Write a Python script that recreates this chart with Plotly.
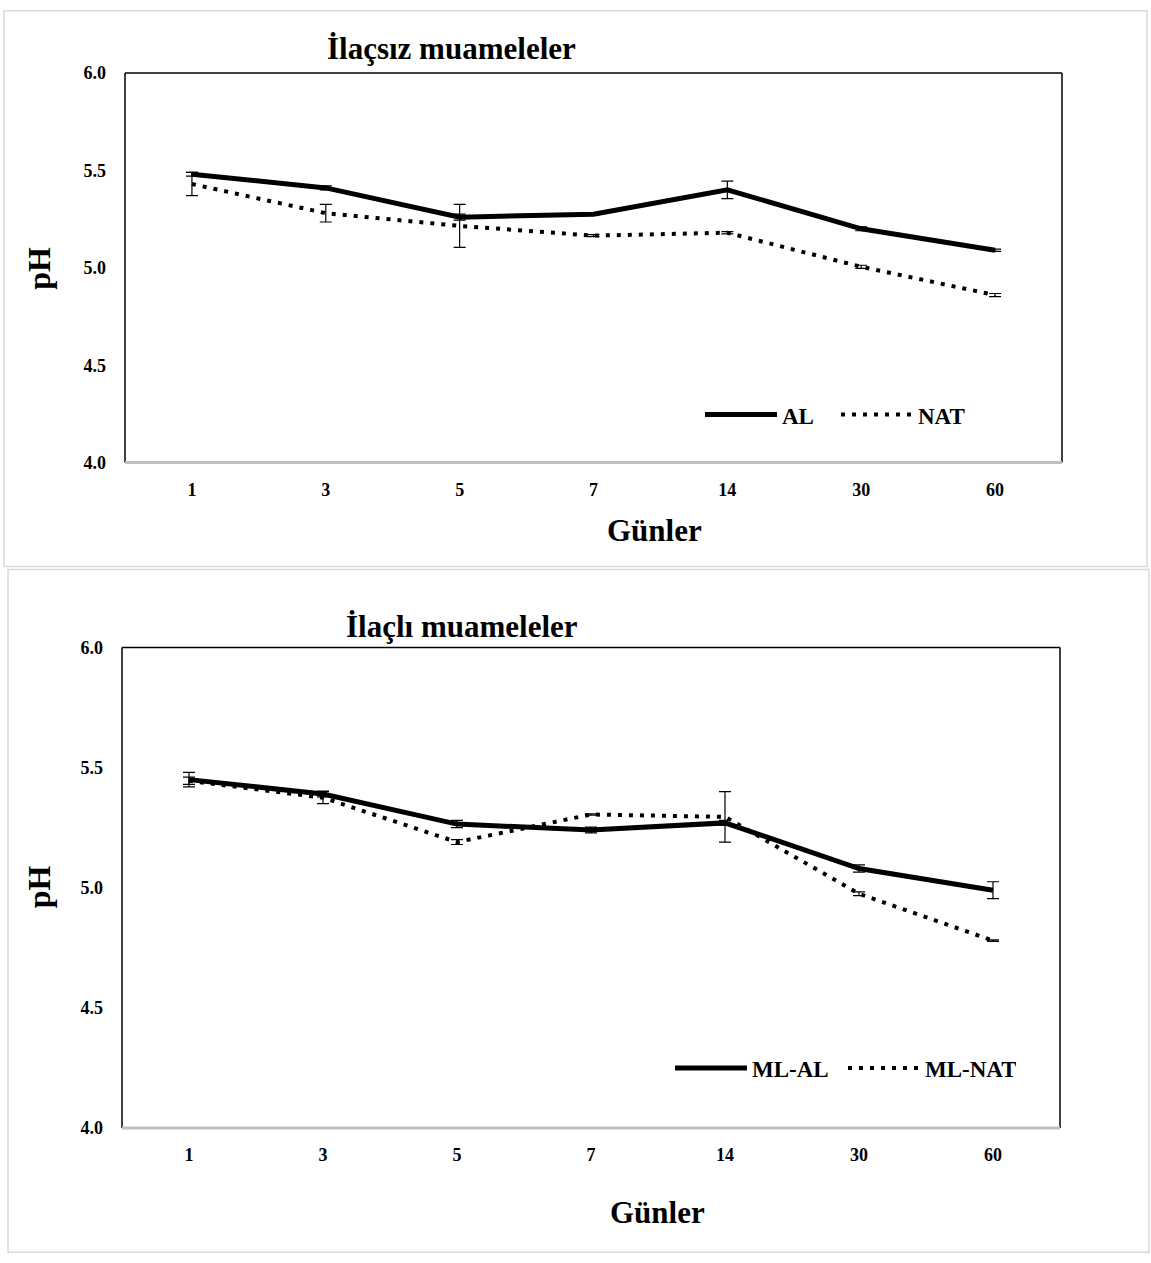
import plotly.graph_objects as go

# ---- data ----
days = ["1", "3", "5", "7", "14", "30", "60"]

al = [5.48, 5.41, 5.26, 5.275, 5.40, 5.20, 5.09]
al_err = [0.01, 0.01, 0.015, 0.004, 0.045, 0.01, 0.006]
nat = [5.43, 5.28, 5.215, 5.165, 5.18, 5.005, 4.86]
nat_err = [0.06, 0.045, 0.11, 0.005, 0.006, 0.008, 0.008]

ml_al = [5.45, 5.39, 5.265, 5.24, 5.27, 5.08, 4.99]
ml_al_err = [0.03, 0.012, 0.015, 0.012, 0.01, 0.015, 0.035]
ml_nat = [5.445, 5.375, 5.19, 5.305, 5.295, 4.975, 4.78]
ml_nat_err = [0.015, 0.025, 0.01, 0.003, 0.105, 0.008, 0.003]

y_ticks = [4.0, 4.5, 5.0, 5.5, 6.0]

title_top = "İlaçsız muameleler"
title_bottom = "İlaçlı muameleler"
x_title = "Günler"
y_title = "pH"

# ---- layout helpers ----
W, H = 1151, 1263
FONT = "Liberation Serif"


def px(x):
    return x / W


def py(y):
    # target pixel row -> paper fraction (with small vertical correction)
    yy = (y - 9) / 0.985
    yy = min(max(yy, 0.75), H - 0.75)
    return 1 - yy / H


solid = dict(color="black", width=5)
dotted = dict(color="black", width=4, dash="4px,7px")


def err(arr):
    return dict(type="data", array=arr, visible=True, color="black",
                thickness=1.2, width=6)


fig = go.Figure()

fig.add_trace(go.Scatter(x=days, y=al, mode="lines", name="AL", line=solid,
                         error_y=err(al_err), xaxis="x", yaxis="y",
                         legend="legend"))
fig.add_trace(go.Scatter(x=days, y=nat, mode="lines", name="NAT", line=dotted,
                         error_y=err(nat_err), xaxis="x", yaxis="y",
                         legend="legend"))
fig.add_trace(go.Scatter(x=days, y=ml_al, mode="lines", name="ML-AL", line=solid,
                         error_y=err(ml_al_err), xaxis="x2", yaxis="y2",
                         legend="legend2"))
fig.add_trace(go.Scatter(x=days, y=ml_nat, mode="lines", name="ML-NAT", line=dotted,
                         error_y=err(ml_nat_err), xaxis="x2", yaxis="y2",
                         legend="legend2"))

tickfont = dict(family=FONT, size=18, color="black", weight="bold")

xcommon = dict(type="category", range=[-0.5, 6.5], showgrid=False, zeroline=False,
               showline=False, ticks="", tickfont=tickfont, ticklabelstandoff=14,
               fixedrange=True)
ycommon = dict(range=[4.0, 6.0], tickvals=y_ticks, tickformat=".1f", showgrid=False,
               zeroline=False, showline=False, ticks="", tickfont=tickfont,
               ticklabelstandoff=18, fixedrange=True)

legfont = dict(family=FONT, size=23, color="black", weight="bold")

fig.update_layout(
    width=W, height=H,
    margin=dict(l=0, r=0, t=0, b=0),
    paper_bgcolor="white", plot_bgcolor="white",
    xaxis=dict(domain=[px(125), px(1062)], anchor="y", **xcommon),
    yaxis=dict(domain=[py(462), py(72)], anchor="x", **ycommon),
    xaxis2=dict(domain=[px(122), px(1060)], anchor="y2", **xcommon),
    yaxis2=dict(domain=[py(1128), py(647)], anchor="x2", **ycommon),
    legend=dict(orientation="h", x=px(700), y=py(414), xanchor="left",
                yanchor="middle", font=legfont, bgcolor="rgba(0,0,0,0)",
                itemwidth=72, tracegroupgap=0, entrywidth=49,
                entrywidthmode="pixels"),
    legend2=dict(orientation="h", x=px(670), y=py(1068), xanchor="left",
                 yanchor="middle", font=legfont, bgcolor="rgba(0,0,0,0)",
                 itemwidth=72, tracegroupgap=0, entrywidth=86,
                 entrywidthmode="pixels"),
    showlegend=True,
)

# plot-area borders (black left/top/right, grey bottom) and outer panel frames
shapes = []
for xa, ya in (("x", "y"), ("x2", "y2")):
    xr, yr = xa + " domain", ya + " domain"
    shapes += [
        dict(type="line", xref=xr, yref=yr, x0=0, x1=0, y0=0, y1=1,
             line=dict(color="black", width=1.5)),
        dict(type="line", xref=xr, yref=yr, x0=0, x1=1, y0=1, y1=1,
             line=dict(color="black", width=1.5)),
        dict(type="line", xref=xr, yref=yr, x0=1, x1=1, y0=0, y1=1,
             line=dict(color="black", width=1.5)),
        dict(type="line", xref=xr, yref=yr, x0=0, x1=1, y0=0, y1=0,
             line=dict(color="#bfbfbf", width=3)),
    ]
shapes += [
    dict(type="rect", xref="paper", yref="paper", x0=px(4), x1=px(1147),
         y0=py(566), y1=py(2), line=dict(color="#d9d9d9", width=1.5), layer="below"),
    dict(type="rect", xref="paper", yref="paper", x0=px(8), x1=px(1149),
         y0=py(1262), y1=py(569), line=dict(color="#d9d9d9", width=1.5), layer="below"),
]
fig.update_layout(shapes=shapes)

tfont = dict(family=FONT, size=31, color="black", weight="bold")
yfont = dict(family=FONT, size=32, color="black", weight="bold")
annotations = [
    dict(text=title_top, x=px(451), y=py(48), xref="paper", yref="paper",
         showarrow=False, font=tfont, xanchor="center", yanchor="middle"),
    dict(text=title_bottom, x=px(462), y=py(626), xref="paper", yref="paper",
         showarrow=False, font=tfont, xanchor="center", yanchor="middle"),
    dict(text=x_title, x=px(654), y=py(530), xref="paper", yref="paper",
         showarrow=False, font=tfont, xanchor="center", yanchor="middle"),
    dict(text=x_title, x=px(657), y=py(1213), xref="paper", yref="paper",
         showarrow=False, font=tfont, xanchor="center", yanchor="middle"),
    dict(text=y_title, x=px(39), y=py(268), xref="paper", yref="paper",
         showarrow=False, font=yfont, textangle=-90, xanchor="center", yanchor="middle"),
    dict(text=y_title, x=px(39), y=py(887), xref="paper", yref="paper",
         showarrow=False, font=yfont, textangle=-90, xanchor="center", yanchor="middle"),
]
fig.update_layout(annotations=annotations)

fig.write_html("out.html", config={"displayModeBar": False},
               post_script="document.body.style.margin='0px';")
